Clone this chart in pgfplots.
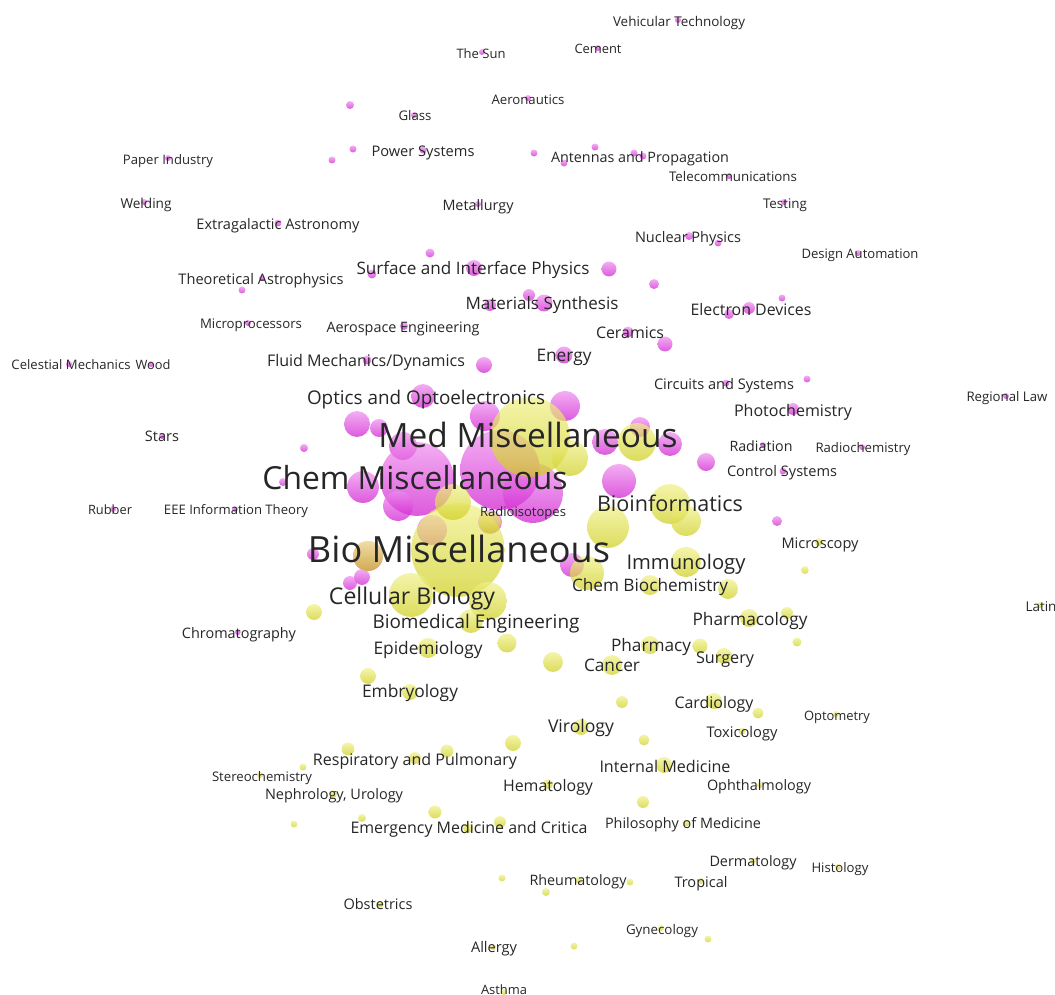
\documentclass[border=0pt]{standalone}
\usepackage{fontspec}
\setmainfont{Open Sans}
\usepackage{graphicx}
\usepackage{pgfplots}
\usepackage{pgfplotstable}
\pgfplotsset{compat=1.18}
\definecolor{magtop}{RGB}{238,140,238}
\definecolor{magbot}{RGB}{206,20,206}
\definecolor{yeltop}{RGB}{240,240,135}
\definecolor{yelbot}{RGB}{205,205,25}
\definecolor{txt}{RGB}{38,38,38}
\pgfdeclareverticalshading{magsh}{100bp}{color(0bp)=(magbot); color(25bp)=(magbot); color(75bp)=(magtop); color(100bp)=(magtop)}
\pgfdeclareverticalshading{yelsh}{100bp}{color(0bp)=(yelbot); color(25bp)=(yelbot); color(75bp)=(yeltop); color(100bp)=(yeltop)}
\pgfdeclareplotmark{magball}{\pgfpathcircle{\pgfpointorigin}{\pgfplotmarksize}\pgfshadepath{magsh}{0}\pgfusepath{}}
\pgfdeclareplotmark{yelball}{\pgfpathcircle{\pgfpointorigin}{\pgfplotmarksize}\pgfshadepath{yelsh}{0}\pgfusepath{}}

\pgfplotstableread{
x y r
678 20 3
482 52 3
598 48 3
528 98 3
414 115 3
350 105 4
423 150 3.5
353 149 3.5
332 160 3.5
168 158 3
144 202 3
278 223 3.5
478 204 3
430 253 4.5
474 268 8
372 274 4.5
262 278 3
242 290 3.5
248 323 3
404 326 4
490 305 6
529 295 6
544 303 8.5
609 269 7.5
654 284 5
628 332 5.5
665 344 7.5
564 355 8.5
484 365 8
367 360 4.5
534 153 3.5
595 147 3.5
564 163 3.5
634 153 3.5
643 156 3.5
729 176 3
784 202 3
689 236 4
718 243 3.5
858 253 3
729 314 5
749 308 6
782 298 3.5
726 383 3.5
807 379 3.5
793 409 6
1006 396 3
763 445 3
862 447 3
783 471 3.5
706 462 9
619 481 17
777 521 5
69 364 3
151 364 3
162 436 3
304 448 4
283 482 4
113 509 3
235 509 3
313 554 6
238 632 3
423 396 12
565 406 15
357 424 13
379 428 9
485 416 15
403 446 14
417 479 37
363 487 16
398 506 15
432 530 15
500 470 40
533 493 30
490 522 12
605 442 13
640 427 10
670 444 12
368 556 15
362 577 8
350 583 7
572 565 12
}\magtab

\pgfplotstableread{
x y r
530 437 40
458 550 47
637 442 19
570 458 18
670 504 20
686 521 15
608 527 21
453 502 18
490 522 11
368 556 15
587 573 17
686 562 15
650 585 10
728 589 10
411 595 22
488 601 19
471 621 12
314 612 8
507 643 9.5
428 648 10
553 662 10
612 665 10
368 676 8
410 692 8
650 645 9
700 646 7.5
724 656 8
749 618 9
787 613 6
797 642 4.5
819 542 4
805 570 4
1040 605 3
622 702 6
714 701 8
758 713 5.5
836 714 3
581 727 8
742 731 3.5
644 740 5.5
664 765 8
548 784 5
760 785 3
643 802 6
686 823 3.5
753 861 3
838 867 3
701 881 3
579 880 3.5
630 882 3.5
546 892 4
661 928 3
708 939 3.5
574 946 3.5
348 749 6.5
415 758 6
447 751 6.5
513 743 8
260 775 3
303 767 3.5
333 794 4
294 824 3.5
362 818 4
435 812 6.5
468 828 5
500 822 6
502 878 3.5
380 904 3.5
493 947 3
504 992 3
}\yeltab

\pgfplotstableread[col sep=semicolon]{
x;y;w;label
679;20;132;Vehicular Technology
481;52;49;The Sun
598;47;47;Cement
528;98;73;Aeronautics
415;114;33;Glass
423;150;103;Power Systems
640;156;178;Antennas and Propagation
168;158;90;Paper Industry
733;175;128;Telecommunications
146;202;51;Welding
478;204;71;Metallurgy
785;202;44;Testing
278;223;163;Extragalactic Astronomy
688;236;106;Nuclear Physics
860;252;117;Design Automation
473;267;233;Surface and Interface Physics
261;278;165;Theoretical Astrophysics
542;302;153;Materials Synthesis
751;308;121;Electron Devices
251;322;102;Microprocessors
403;326;153;Aerospace Engineering
630;331;68;Ceramics
366;359;198;Fluid Mechanics/Dynamics
564;354;55;Energy
71;363;119;Celestial Mechanics
153;363;35;Wood
724;383;140;Circuits and Systems
426;396;238;Optics and Optoelectronics
1007;395;81;Regional Law
793;409;118;Photochemistry
162;435;34;Stars
528;434;299;Med Miscellaneous
761;445;63;Radiation
863;446;95;Radiochemistry
782;470;110;Control Systems
415;477;305;Chem Miscellaneous
670;502;146;Bioinformatics
110;508;44;Rubber
236;508;144;EEE Information Theory
523;510;86;Radioisotopes
459;548;302;Bio Miscellaneous
820;542;77;Microscopy
686;561;119;Immunology
650;584;156;Chem Biochemistry
412;595;166;Cellular Biology
1041;605;31;Latin
750;618;115;Pharmacology
476;620;207;Biomedical Engineering
239;632;114;Chromatography
651;644;80;Pharmacy
428;647;109;Epidemiology
725;656;58;Surgery
612;664;56;Cancer
410;690;96;Embryology
714;701;79;Cardiology
837;714;66;Optometry
581;725;66;Virology
742;731;71;Toxicology
415;758;204;Respiratory and Pulmonary
665;765;131;Internal Medicine
262;775;100;Stereochemistry
548;784;90;Hematology
759;784;104;Ophthalmology
334;793;138;Nephrology, Urology
469;826;237;Emergency Medicine and Critica
683;822;156;Philosophy of Medicine
753;860;87;Dermatology
840;866;57;Histology
578;879;97;Rheumatology
701;881;53;Tropical
378;903;69;Obstetrics
662;928;72;Gynecology
494;946;46;Allergy
504;988;46;Asthma
}\labtab

\begin{document}
\begin{tikzpicture}
\useasboundingbox (0,0) rectangle (1055bp,995bp);
\begin{axis}[
  at={(0,0)}, anchor=south west,
  scale only axis, width=1055bp, height=995bp,
  xmin=0, xmax=1055, ymin=0, ymax=995, y dir=reverse,
  hide axis, clip=false,
]
\addplot[scatter, only marks, mark=magball, opacity=0.7,
  visualization depends on={\thisrow{r}\as\rr},
  scatter/@pre marker code/.append style={/tikz/mark size=\rr},
] table[x=x,y=y] {\magtab};
\addplot[scatter, only marks, mark=yelball, opacity=0.7,
  visualization depends on={\thisrow{r}\as\rr},
  scatter/@pre marker code/.append style={/tikz/mark size=\rr},
] table[x=x,y=y] {\yeltab};
\addplot[mark=none, draw=none, point meta=explicit symbolic,
  visualization depends on={\thisrow{w}\as\ww},
  nodes near coords={\resizebox{\ww bp}{!}{\smash{\pgfplotspointmeta}\vphantom{H}}},
  nodes near coords align=center,
  every node near coord/.append style={inner sep=0pt, anchor=center, yshift=-1.5bp, text=txt},
] table[x=x,y=y,meta=label] {\labtab};
\end{axis}
\end{tikzpicture}
\end{document}
